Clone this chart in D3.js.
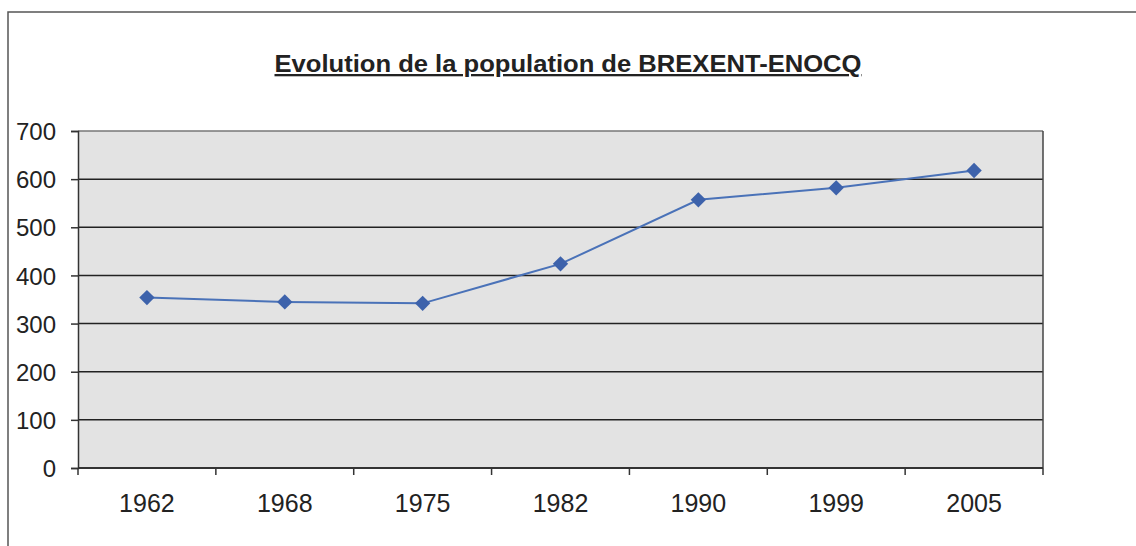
<!DOCTYPE html>
<html>
<head>
<meta charset="utf-8">
<script src="https://cdn.jsdelivr.net/npm/d3@7"></script>
<style>
  body { margin: 0; background: #fff; }
  text { font-family: "Liberation Sans", Arial, sans-serif; fill: #222; }
</style>
</head>
<body>
<script>
var years = ['1962', '1968', '1975', '1982', '1990', '1999', '2005'];
var population = [354, 345, 342, 424, 557, 582, 618];
var yTicks = [0, 100, 200, 300, 400, 500, 600, 700];
var title = 'Evolution de la population de BREXENT-ENOCQ';

var W = 1136, H = 546;
var plotL = 78, plotR = 1043, plotT = 131, plotB = 468;

var svg = d3.select('body').append('svg')
    .attr('width', W)
    .attr('height', H);

// page frame
svg.append('path')
    .attr('d', 'M 8 546 L 8 12 L 1136 12')
    .attr('fill', 'none')
    .attr('stroke', '#555')
    .attr('stroke-width', 1.5);

// title
svg.append('text')
    .attr('x', 568)
    .attr('y', 72)
    .attr('text-anchor', 'middle')
    .attr('font-size', 23)
    .attr('font-weight', 'bold')
    .attr('text-decoration', 'underline')
    .attr('textLength', 587)
    .attr('lengthAdjust', 'spacingAndGlyphs')
    .text(title);

var x = d3.scaleBand().domain(years).range([plotL, plotR]);
var y = d3.scaleLinear().domain([0, 700]).range([plotB, plotT]);

// plot background
svg.append('rect')
    .attr('x', plotL)
    .attr('y', plotT)
    .attr('width', plotR - plotL)
    .attr('height', plotB - plotT)
    .attr('fill', '#e3e3e3');

// gridlines
svg.append('g')
    .selectAll('line')
    .data(yTicks.slice(1))
    .enter().append('line')
    .attr('x1', plotL)
    .attr('x2', plotR)
    .attr('y1', function(d) { return y(d); })
    .attr('y2', function(d) { return y(d); })
    .attr('stroke', function(d) { return d == 700 ? '#777' : '#222'; })
    .attr('stroke-width', 1.5);

// right border of plot
svg.append('line')
    .attr('x1', plotR).attr('x2', plotR)
    .attr('y1', plotT).attr('y2', plotB)
    .attr('stroke', '#444')
    .attr('stroke-width', 1.5);

// y axis
var yAxis = svg.append('g')
    .attr('transform', 'translate(' + plotL + ',0)')
    .call(d3.axisLeft(y).tickValues(yTicks).tickSize(7).tickPadding(15));
yAxis.selectAll('text')
    .attr('font-size', 24)
    .attr('dy', '0.36em')
    .style('font-family', '"Liberation Sans", Arial, sans-serif')
    .attr('fill', '#222');
yAxis.selectAll('line, path').attr('stroke', '#333').attr('stroke-width', 1.5);

// x axis: ticks at band edges
var xAxis = svg.append('g')
    .attr('transform', 'translate(0,' + plotB + ')');
xAxis.append('line')
    .attr('x1', plotL).attr('x2', plotR)
    .attr('stroke', '#333').attr('stroke-width', 2);
xAxis.selectAll('.edge')
    .data(years.concat(['end']))
    .enter().append('line')
    .attr('class', 'edge')
    .attr('x1', function(d, i) { return plotL + i * x.step(); })
    .attr('x2', function(d, i) { return plotL + i * x.step(); })
    .attr('y1', 0).attr('y2', 7)
    .attr('stroke', '#333').attr('stroke-width', 1.5);
xAxis.selectAll('.xlabel')
    .data(years)
    .enter().append('text')
    .attr('class', 'xlabel')
    .attr('x', function(d) { return x(d) + x.bandwidth() / 2; })
    .attr('y', 44)
    .attr('text-anchor', 'middle')
    .attr('font-size', 25)
    .text(function(d) { return d; });

// line
var line = d3.line()
    .x(function(d, i) { return x(years[i]) + x.bandwidth() / 2; })
    .y(function(d) { return y(d); });

svg.append('path')
    .datum(population)
    .attr('d', line)
    .attr('fill', 'none')
    .attr('stroke', '#4a72b8')
    .attr('stroke-width', 2);

// diamond markers
svg.selectAll('.marker')
    .data(population)
    .enter().append('path')
    .attr('class', 'marker')
    .attr('d', d3.symbol().type(d3.symbolDiamond2).size(150))
    .attr('transform', function(d, i) {
        return 'translate(' + (x(years[i]) + x.bandwidth() / 2) + ',' + y(d) + ')';
    })
    .attr('fill', '#3d62ab');
</script>
</body>
</html>
